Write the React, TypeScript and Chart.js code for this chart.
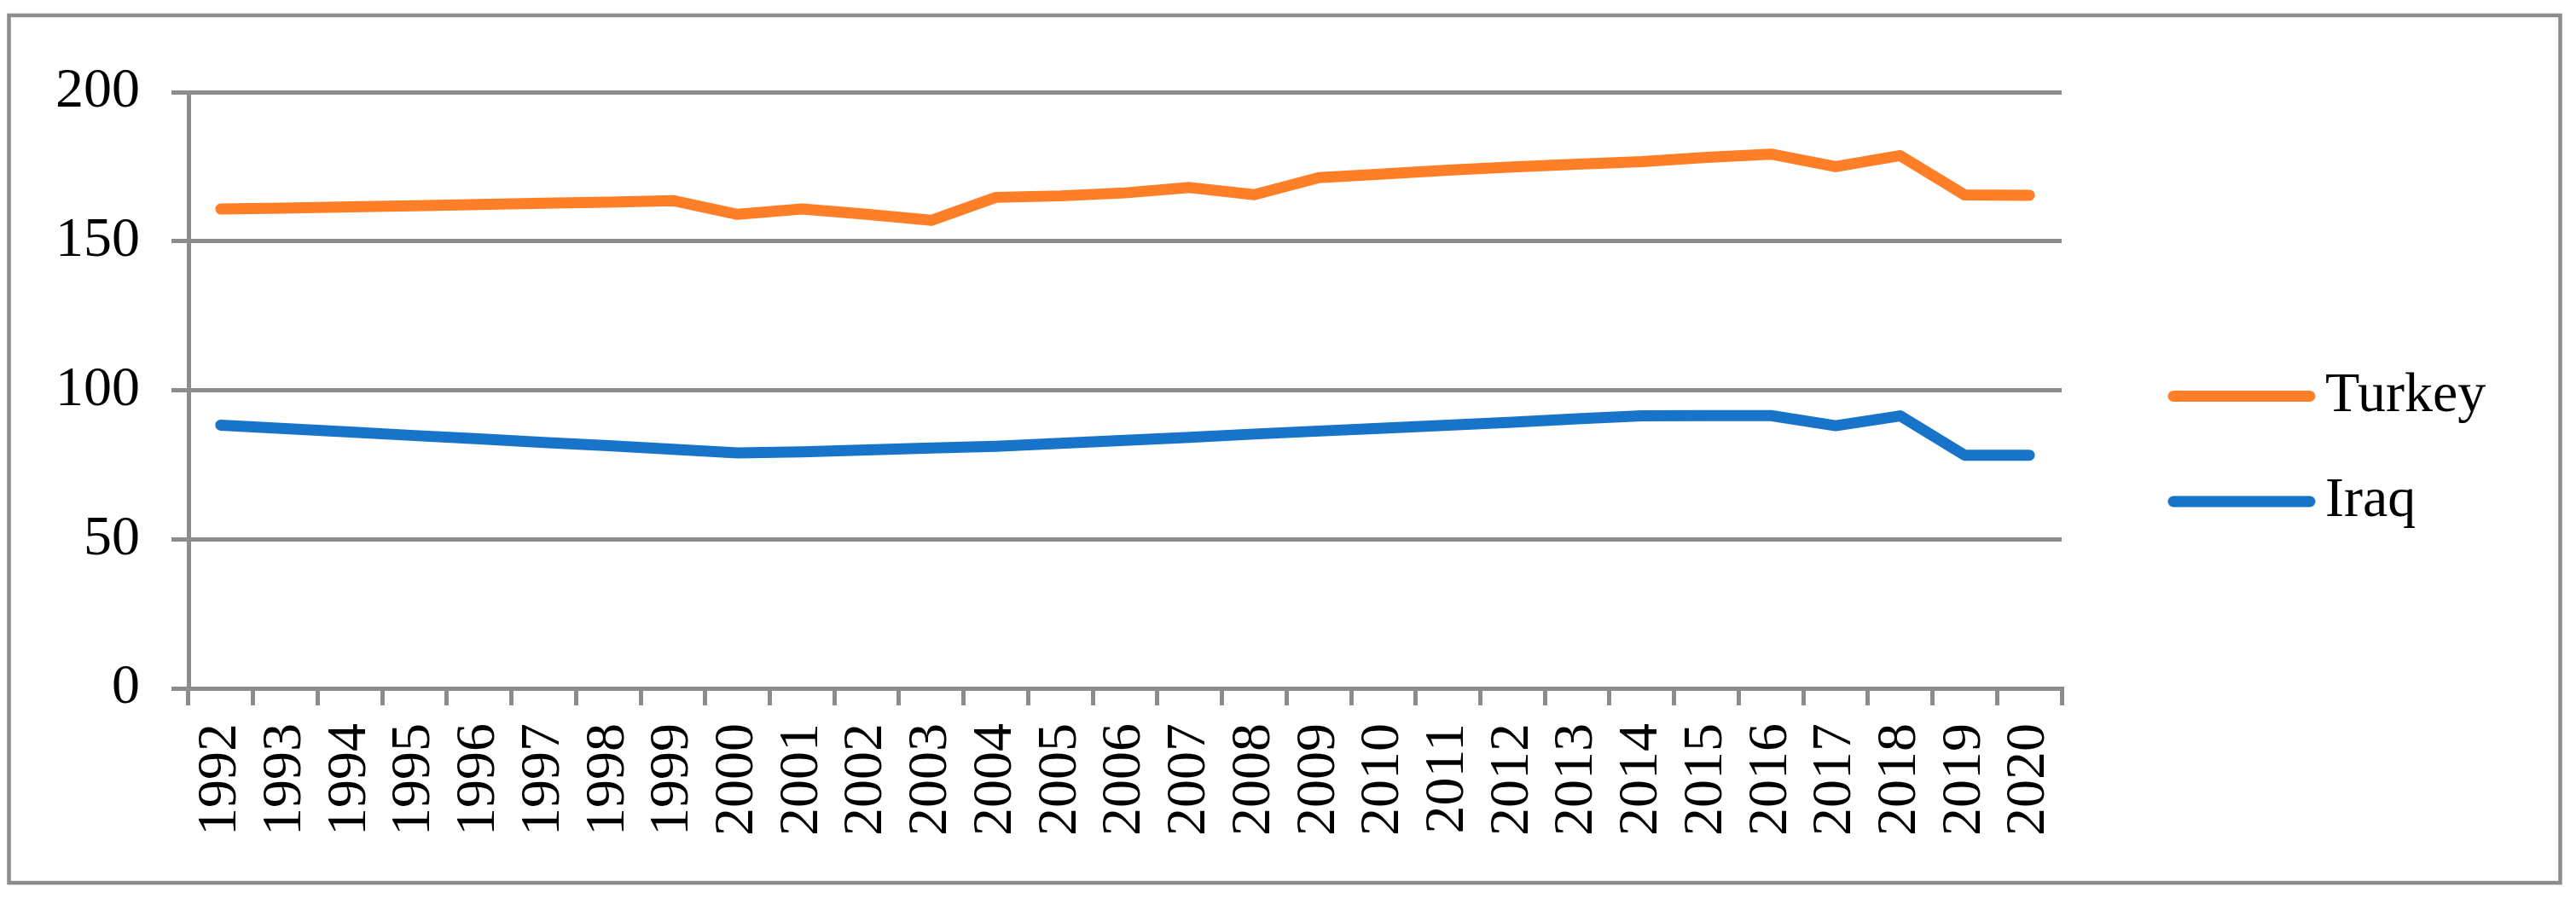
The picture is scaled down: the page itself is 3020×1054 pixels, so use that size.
import React, { useEffect, useRef } from "react";
import { Chart, registerables } from "chart.js";

Chart.register(...registerables);

const years: string[] = [
  "1992", "1993", "1994", "1995", "1996", "1997", "1998", "1999", "2000", "2001",
  "2002", "2003", "2004", "2005", "2006", "2007", "2008", "2009", "2010", "2011",
  "2012", "2013", "2014", "2015", "2016", "2017", "2018", "2019", "2020",
];

const turkey: number[] = [
  160.8, 161.1, 161.5, 161.9, 162.3, 162.7, 163.1, 163.6, 159.0, 160.8,
  159.0, 157.0, 164.7, 165.2, 166.2, 168.0, 165.6, 171.3, 172.5, 173.8,
  174.9, 175.8, 176.7, 178.1, 179.2, 175.0, 178.7, 165.5, 165.4,
];

const iraq: number[] = [
  88.3, 87.1, 86.0, 84.8, 83.7, 82.5, 81.4, 80.2, 79.0, 79.3,
  80.0, 80.6, 81.2, 82.2, 83.2, 84.2, 85.3, 86.3, 87.3, 88.3,
  89.3, 90.4, 91.4, 91.5, 91.5, 88.1, 91.4, 78.2, 78.2,
];

const seriesNames: string[] = ["Turkey", "Iraq"];
const seriesColors: string[] = ["#FE7F28", "#1874C9"];
const yTicks: number[] = [0, 50, 100, 150, 200];

const FONT = "'Liberation Serif', 'Times New Roman', serif";
const GREY = "#8c8c8c";

const framePlugin = {
  id: "frame",
  beforeDraw(chart: any) {
    const ctx = chart.ctx;
    ctx.save();
    ctx.strokeStyle = GREY;
    ctx.lineWidth = 4.5;
    ctx.strokeRect(10.5, 18, 2991, 1017);
    ctx.restore();
  },
};

const legendPlugin = {
  id: "sideLegend",
  afterDraw(chart: any) {
    const ctx = chart.ctx;
    const rowsY = [464.5, 588];
    ctx.save();
    chart.data.datasets.forEach((ds: any, i: number) => {
      const y = rowsY[i];
      ctx.strokeStyle = ds.borderColor;
      ctx.lineWidth = 13;
      ctx.lineCap = "round";
      ctx.beginPath();
      ctx.moveTo(2548, y);
      ctx.lineTo(2708, y);
      ctx.stroke();
      ctx.fillStyle = "#000000";
      ctx.font = `66px ${FONT}`;
      ctx.textBaseline = "middle";
      ctx.textAlign = "left";
      ctx.fillText(ds.label, 2726, y);
    });
    ctx.restore();
  },
};

export default function App() {
  const canvasRef = useRef<HTMLCanvasElement | null>(null);

  useEffect(() => {
    const canvas = canvasRef.current;
    if (!canvas) return;
    const chart = new Chart(canvas, {
      type: "line",
      data: {
        labels: years,
        datasets: [
          {
            label: seriesNames[0],
            data: turkey,
            borderColor: seriesColors[0],
            backgroundColor: seriesColors[0],
            borderWidth: 13,
            borderCapStyle: "round",
            borderJoinStyle: "round",
            pointRadius: 0,
            tension: 0,
            fill: false,
          },
          {
            label: seriesNames[1],
            data: iraq,
            borderColor: seriesColors[1],
            backgroundColor: seriesColors[1],
            borderWidth: 13,
            borderCapStyle: "round",
            borderJoinStyle: "round",
            pointRadius: 0,
            tension: 0,
            fill: false,
          },
        ],
      },
      options: {
        responsive: false,
        devicePixelRatio: 1,
        animation: false,
        layout: { padding: { left: 0, top: 108, right: 603, bottom: 0 } },
        plugins: {
          legend: { display: false },
          tooltip: { enabled: false },
          title: { display: false },
        },
        scales: {
          x: {
            type: "category",
            offset: true,
            afterFit: (scale: any) => {
              scale.height = 247;
            },
            grid: {
              offset: true,
              drawOnChartArea: false,
              drawTicks: true,
              tickLength: 20,
              color: GREY,
              lineWidth: 5,
            },
            border: { display: true, color: GREY, width: 5 },
            ticks: {
              autoSkip: false,
              minRotation: 90,
              maxRotation: 90,
              padding: 21,
              color: "#000000",
              font: { family: FONT, size: 66 },
            },
          },
          y: {
            min: 0,
            max: 200,
            afterFit: (scale: any) => {
              scale.width = 221;
            },
            afterBuildTicks: (scale: any) => {
              scale.ticks = yTicks.map((v) => ({ value: v }));
            },
            grid: {
              drawTicks: true,
              tickLength: 20,
              color: GREY,
              lineWidth: 5,
            },
            border: { display: true, color: GREY, width: 5 },
            ticks: {
              padding: 37,
              color: "#000000",
              font: { family: FONT, size: 66 },
            },
          },
        },
      },
      plugins: [framePlugin, legendPlugin],
    } as any);
    return () => chart.destroy();
  }, []);

  return (
    <canvas
      ref={canvasRef}
      width={3020}
      height={1054}
      style={{ position: "fixed", left: 0, top: 0, width: "3020px", height: "1054px", background: "#ffffff" }}
    />
  );
}
